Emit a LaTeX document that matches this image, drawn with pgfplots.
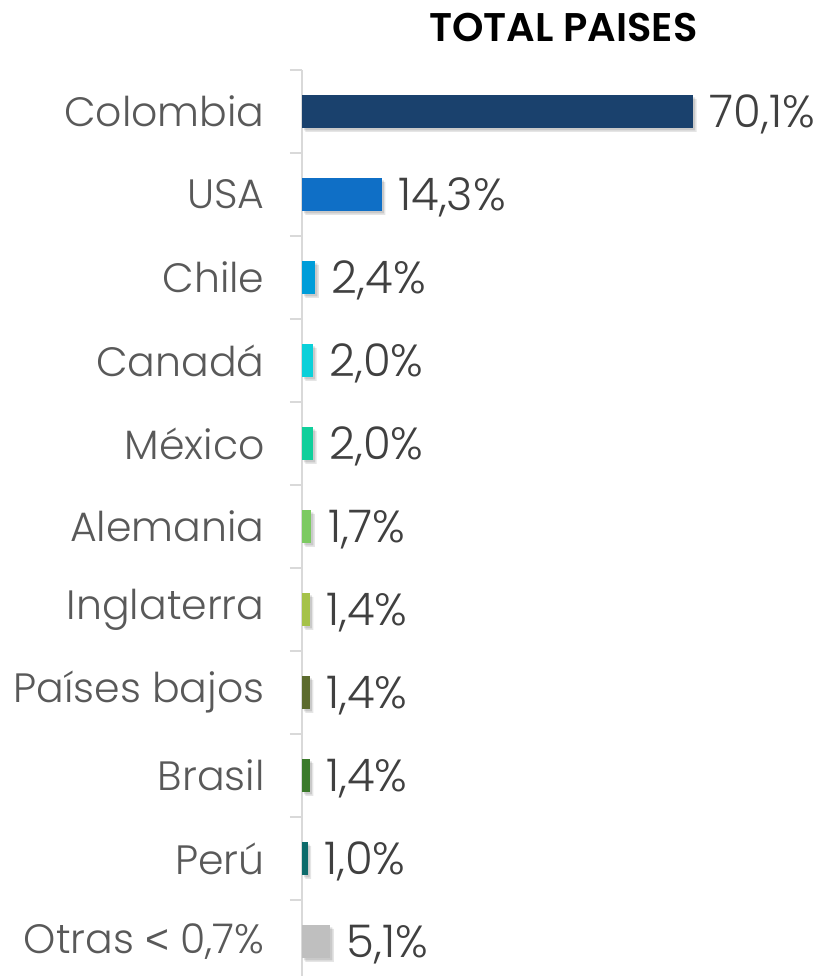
\documentclass[border=0pt]{standalone}
\usepackage{pgfplots}
\pgfplotsset{compat=1.18}
\usepackage{fontspec}
\setmainfont{Poppins}[UprightFont={* Light}, BoldFont={* SemiBold}]
\newfontfamily\ltfont{Liberation Sans}
\definecolor{txt}{HTML}{404040}
\definecolor{lab}{HTML}{595959}
\definecolor{axgray}{HTML}{D9D9D9}
\definecolor{c1}{HTML}{1A416D}
\definecolor{c2}{HTML}{0F6FC6}
\definecolor{c3}{HTML}{009DD9}
\definecolor{c4}{HTML}{0BD0D9}
\definecolor{c5}{HTML}{10CF9B}
\definecolor{c6}{HTML}{7CCA62}
\definecolor{c7}{HTML}{A5C249}
\definecolor{c8}{HTML}{5C6B2E}
\definecolor{c9}{HTML}{3B7A2B}
\definecolor{c10}{HTML}{0D6B6B}
\definecolor{c11}{HTML}{BFBFBF}
\begin{document}
\begin{tikzpicture}
\useasboundingbox (-302pt,0pt) rectangle (533pt,976pt);
\begin{axis}[
  at={(0pt,0pt)}, anchor=south west,
  scale only axis, width=533pt, height=906pt,
  xmin=0, xmax=95.5, ymin=-0.5, ymax=10.416, y dir=reverse,
  xbar, bar width=33pt, bar shift=0pt,
  axis x line=none,
  axis y line*=left,
  y axis line style={draw=axgray, line width=1.5pt, -},
  ytick={0,...,10},
  yticklabels={Colombia,USA,Chile,Canadá,México,Alemania,Inglaterra,Países bajos,Brasil,Perú,{Otras {\ltfont <} 0,7\%}},
  major tick length=0pt,
  minor ytick={-0.5,0.5,...,9.5},
  minor tick length=12pt, tick align=outside,
  minor tick style={draw=axgray, line width=1.5pt},
  yticklabel style={font=\fontsize{41}{42}\selectfont, text=lab, anchor=east, xshift=-34pt},
  clip=false,
  title={TOTAL PAISES},
  title style={font=\bfseries\fontsize{40}{42}\selectfont, anchor=base, xshift=-5pt, yshift=22pt},
  every axis plot/.append style={draw=none},
  nodes near coords style={font=\fontsize{45}{46}\selectfont, text=txt, anchor=west, xshift=13pt, yshift=-3pt},
]
% soft drop shadows
\addplot[fill=black, fill opacity=0.10, xshift=3.5pt, yshift=-4pt, forget plot]
  coordinates {(70.1,0) (14.3,1) (2.4,2) (2.0,3) (2.0,4) (1.7,5) (1.4,6) (1.4,7) (1.4,8) (1.0,9) (5.1,10)};
\addplot[fill=black, fill opacity=0.12, xshift=2pt, yshift=-2.5pt, forget plot]
  coordinates {(70.1,0) (14.3,1) (2.4,2) (2.0,3) (2.0,4) (1.7,5) (1.4,6) (1.4,7) (1.4,8) (1.0,9) (5.1,10)};
\addplot[fill=c1, nodes near coords={70,1\%}] coordinates {(70.1,0)};
\addplot[fill=c2, nodes near coords={14,3\%}] coordinates {(14.3,1)};
\addplot[fill=c3, nodes near coords={2,4\%}] coordinates {(2.4,2)};
\addplot[fill=c4, nodes near coords={2,0\%}] coordinates {(2.0,3)};
\addplot[fill=c5, nodes near coords={2,0\%}] coordinates {(2.0,4)};
\addplot[fill=c6, nodes near coords={1,7\%}] coordinates {(1.7,5)};
\addplot[fill=c7, nodes near coords={1,4\%}] coordinates {(1.4,6)};
\addplot[fill=c8, nodes near coords={1,4\%}] coordinates {(1.4,7)};
\addplot[fill=c9, nodes near coords={1,4\%}] coordinates {(1.4,8)};
\addplot[fill=c10, nodes near coords={1,0\%}] coordinates {(1.0,9)};
\addplot[fill=c11, nodes near coords={5,1\%}] coordinates {(5.1,10)};
\end{axis}
\end{tikzpicture}
\end{document}
